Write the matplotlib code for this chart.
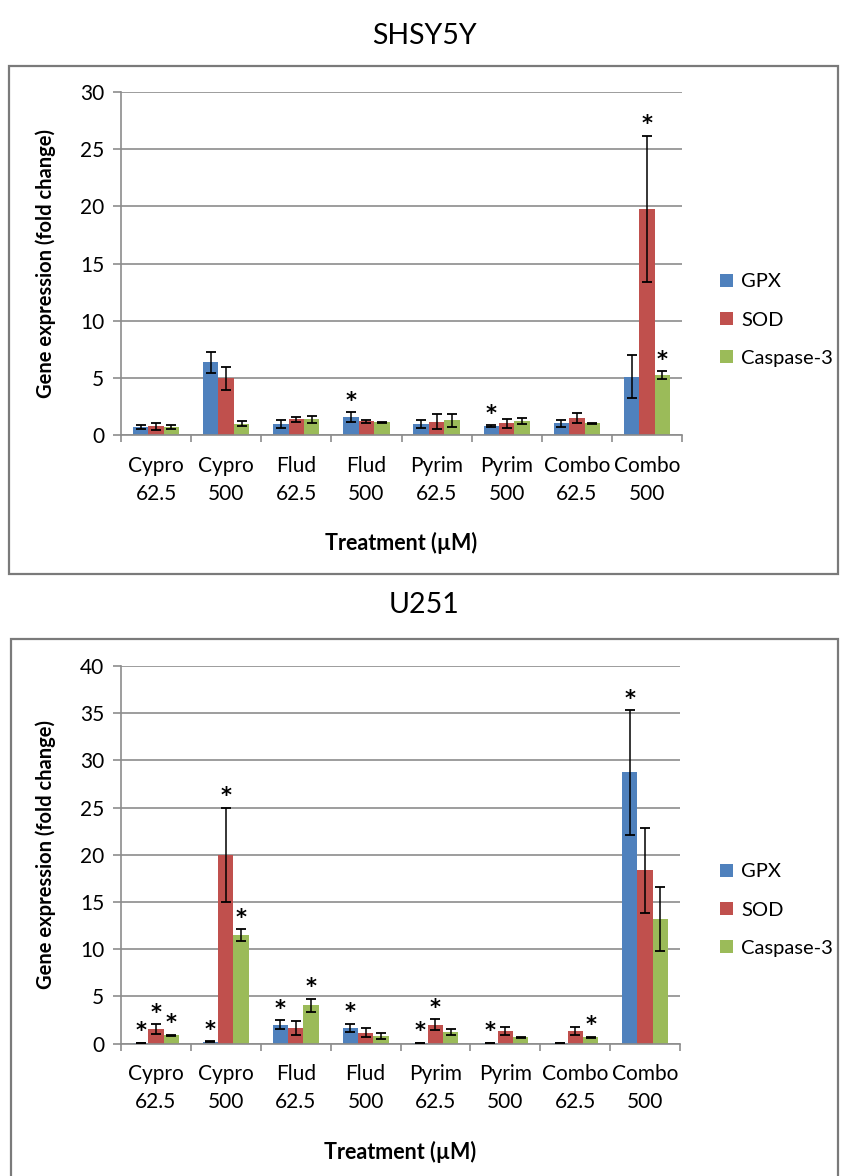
"""Gene expression bar charts for SHSY5Y and U251 cells."""
import matplotlib.pyplot as plt
import numpy as np
from matplotlib.patches import Rectangle

plt.rcParams["font.family"] = ["Lato", "DejaVu Sans"]

categories = ["Cypro\n62.5", "Cypro\n500", "Flud\n62.5", "Flud\n500",
              "Pyrim\n62.5", "Pyrim\n500", "Combo\n62.5", "Combo\n500"]
genes = ["GPX", "SOD", "Caspase-3"]
colors = ["#4F81BD", "#C0504D", "#9BBB59"]

# SHSY5Y
shsy_gpx = [0.7, 6.35, 1.0, 1.57, 1.0, 0.79, 1.02, 5.1]
shsy_gpx_err = [0.2, 0.9, 0.35, 0.4, 0.35, 0.05, 0.3, 1.87]
shsy_gpx_star = [0, 0, 0, 1, 0, 1, 0, 0]
shsy_sod = [0.75, 4.96, 1.36, 1.19, 1.16, 1.02, 1.52, 19.77]
shsy_sod_err = [0.3, 1.0, 0.2, 0.1, 0.65, 0.38, 0.44, 6.4]
shsy_sod_star = [0, 0, 0, 0, 0, 0, 0, 1]
shsy_casp = [0.7, 0.99, 1.36, 1.13, 1.28, 1.22, 1.02, 5.25]
shsy_casp_err = [0.15, 0.2, 0.3, 0.05, 0.6, 0.23, 0.05, 0.35]
shsy_casp_star = [0, 0, 0, 0, 0, 0, 0, 1]

# U251
u251_gpx = [0.1, 0.18, 2.0, 1.65, 0.1, 0.1, 0.1, 28.74]
u251_gpx_err = [0.0, 0.05, 0.5, 0.45, 0.0, 0.0, 0.0, 6.6]
u251_gpx_star = [1, 1, 1, 1, 1, 1, 0, 1]
u251_sod = [1.55, 20.0, 1.65, 1.16, 2.0, 1.31, 1.31, 18.37]
u251_sod_err = [0.53, 5.0, 0.78, 0.45, 0.6, 0.43, 0.43, 4.5]
u251_sod_star = [1, 1, 0, 0, 1, 0, 0, 0]
u251_casp = [0.88, 11.5, 4.05, 0.81, 1.23, 0.67, 0.67, 13.17]
u251_casp_err = [0.05, 0.6, 0.7, 0.3, 0.35, 0.05, 0.05, 3.4]
u251_casp_star = [1, 1, 1, 0, 0, 0, 1, 0]

GRID = "#8c8c8c"


def draw_panel(fig, rect, ymax, series, xlabel_y, legend_y):
    ax = fig.add_axes(rect)
    x = np.arange(len(categories))
    w = 0.22
    for k, (vals, errs, stars) in enumerate(series):
        pos = x + (k - 1) * w
        ax.bar(pos, vals, width=w, color=colors[k], label=genes[k], zorder=2)
        ax.errorbar(pos, vals, yerr=errs, fmt="none", ecolor="black",
                    elinewidth=1.1, capsize=3.3, capthick=1.3, zorder=3)
        for p, v, e, s in zip(pos, vals, errs, stars):
            if s:
                ax.annotate("*", (p, v + e), xytext=(0, 1), textcoords="offset points",
                            ha="center", va="bottom", fontsize=15,
                            family="DejaVu Sans", fontweight="bold")

    ax.set_xlim(-0.5, len(categories) - 0.5)
    ax.set_ylim(0, ymax)
    ax.set_yticks(np.arange(0, ymax + 1, 5))
    ax.yaxis.grid(True, color=GRID, linewidth=1.2)
    ax.set_axisbelow(True)
    for side in ["top", "right"]:
        ax.spines[side].set_visible(False)
    for side in ["left", "bottom"]:
        ax.spines[side].set_color(GRID)
        ax.spines[side].set_linewidth(1.2)

    ax.set_xticks(np.arange(-0.5, len(categories), 1.0))
    ax.set_xticklabels([])
    ax.set_xticks(x, minor=True)
    ax.set_xticklabels(categories, minor=True, fontsize=15, linespacing=1.5)
    ax.tick_params(axis="x", which="major", length=5, color=GRID, width=1.2)
    ax.tick_params(axis="x", which="minor", length=0, pad=15)
    ax.tick_params(axis="y", length=6, color=GRID, width=1.2, labelsize=15, pad=6)

    ax.set_ylabel("Gene expression (fold change)", fontsize=14.5, fontweight="bold")
    ax.yaxis.set_label_coords(-0.116, 0.5)
    ax.set_xlabel("Treatment (\u00b5M)", fontsize=15.5, fontweight="bold")
    ax.xaxis.set_label_coords(0.5, xlabel_y)

    ax.legend(loc="center left", bbox_to_anchor=(720 / 848, legend_y),
              bbox_transform=fig.transFigure, frameon=False, fontsize=14.5,
              handlelength=0.65, handleheight=0.65, handletextpad=0.4,
              labelspacing=1.05, borderpad=0, borderaxespad=0)
    return ax


fig = plt.figure(figsize=(8.48, 11.76), dpi=100)

fig.patches.append(Rectangle((9 / 848, 1 - 574 / 1176), 829 / 848, 508 / 1176,
                             transform=fig.transFigure, fill=False,
                             edgecolor="#7a7a7a", linewidth=1.6))
fig.patches.append(Rectangle((11 / 848, -0.01), 827 / 848, 1 - 639 / 1176 + 0.01,
                             transform=fig.transFigure, fill=False,
                             edgecolor="#7a7a7a", linewidth=1.6))

fig.text(0.5, 1 - 36 / 1176, "SHSY5Y", ha="center", va="center", fontsize=20.5)
fig.text(0.5, 1 - 605 / 1176, "U251", ha="center", va="center", fontsize=20.5)

draw_panel(fig, [121 / 848, 1 - 435 / 1176, 561 / 848, 343 / 1176], 30,
           [(shsy_gpx, shsy_gpx_err, shsy_gpx_star),
            (shsy_sod, shsy_sod_err, shsy_sod_star),
            (shsy_casp, shsy_casp_err, shsy_casp_star)],
           -0.283, 1 - 320 / 1176)

draw_panel(fig, [121 / 848, 1 - 1043.6 / 1176, 559 / 848, 377.6 / 1176], 40,
           [(u251_gpx, u251_gpx_err, u251_gpx_star),
            (u251_sod, u251_sod_err, u251_sod_star),
            (u251_casp, u251_casp_err, u251_casp_star)],
           -0.257, 1 - 910 / 1176)

fig.savefig("out.png", dpi=100)
